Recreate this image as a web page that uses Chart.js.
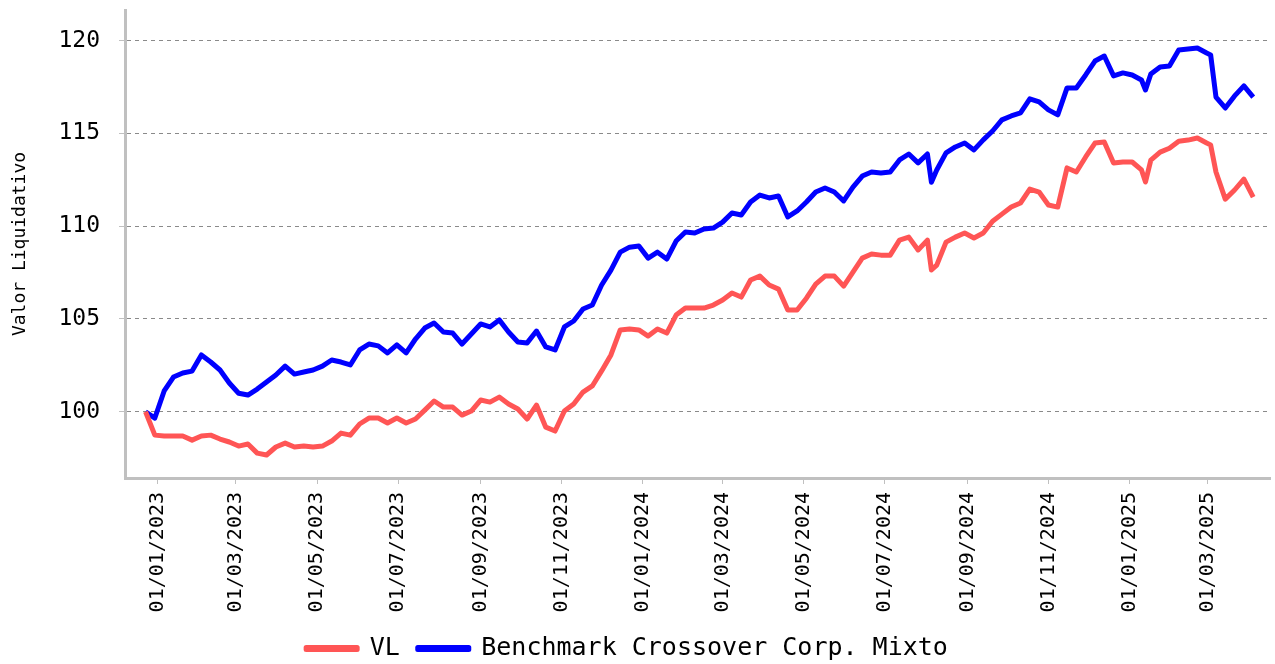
<!DOCTYPE html>
<html>
<head>
<meta charset="utf-8">
<script src="https://cdn.jsdelivr.net/npm/chart.js@4.4.1/dist/chart.umd.min.js"></script>
<style>
  body { margin: 0; background: #fff; }
</style>
</head>
<body>
<canvas id="navChart" width="1275" height="664"></canvas>
<script>
// weekly closes (plus a few extra days where the lines spike)
const dates = [
  '2022-12-23', '2022-12-30',
  '2023-01-06', '2023-01-13', '2023-01-20', '2023-01-27', '2023-02-03', '2023-02-10', '2023-02-17', '2023-02-24',
  '2023-03-03', '2023-03-10', '2023-03-17', '2023-03-24', '2023-03-31', '2023-04-07', '2023-04-14', '2023-04-21', '2023-04-28',
  '2023-05-05', '2023-05-12', '2023-05-19', '2023-05-26', '2023-06-02', '2023-06-09', '2023-06-16', '2023-06-23', '2023-06-30',
  '2023-07-07', '2023-07-14', '2023-07-21', '2023-07-28', '2023-08-04', '2023-08-11', '2023-08-18', '2023-08-25',
  '2023-09-01', '2023-09-08', '2023-09-15', '2023-09-22', '2023-09-29', '2023-10-06', '2023-10-13', '2023-10-20', '2023-10-27',
  '2023-11-03', '2023-11-10', '2023-11-17', '2023-11-24', '2023-12-01', '2023-12-08', '2023-12-15', '2023-12-22', '2023-12-29',
  '2024-01-05', '2024-01-12', '2024-01-19', '2024-01-26', '2024-02-02', '2024-02-09', '2024-02-16', '2024-02-23',
  '2024-03-01', '2024-03-08', '2024-03-15', '2024-03-22', '2024-03-29', '2024-04-05', '2024-04-12', '2024-04-19', '2024-04-26',
  '2024-05-03', '2024-05-10', '2024-05-17', '2024-05-24', '2024-05-31', '2024-06-07', '2024-06-14', '2024-06-21', '2024-06-28',
  '2024-07-05', '2024-07-12', '2024-07-19', '2024-07-26', '2024-08-02', '2024-08-05', '2024-08-09', '2024-08-16', '2024-08-23', '2024-08-30',
  '2024-09-06', '2024-09-13', '2024-09-20', '2024-09-27', '2024-10-04', '2024-10-11', '2024-10-18', '2024-10-25',
  '2024-11-01', '2024-11-08', '2024-11-15', '2024-11-22', '2024-11-29', '2024-12-06', '2024-12-13', '2024-12-20', '2024-12-27',
  '2025-01-03', '2025-01-10', '2025-01-13', '2025-01-17', '2025-01-24', '2025-01-31', '2025-02-07', '2025-02-14', '2025-02-21', '2025-02-28',
  '2025-03-03', '2025-03-07', '2025-03-14', '2025-03-21', '2025-03-28', '2025-04-04'
];

const vl = [
  100.00, 98.74,
  98.69, 98.69, 98.69, 98.47, 98.69, 98.74, 98.53, 98.37,
  98.15, 98.26, 97.77, 97.67, 98.10, 98.31, 98.10, 98.15, 98.10,
  98.15, 98.42, 98.85, 98.74, 99.34, 99.66, 99.66, 99.39, 99.66,
  99.39, 99.61, 100.09, 100.58, 100.25, 100.25, 99.82, 100.04,
  100.63, 100.52, 100.79, 100.42, 100.15, 99.61, 100.36, 99.17, 98.96,
  100.04, 100.42, 101.06, 101.39, 102.20, 103.06, 104.41, 104.46, 104.41,
  104.08, 104.46, 104.24, 105.21, 105.59, 105.59, 105.59, 105.75,
  106.02, 106.40, 106.18, 107.10, 107.31, 106.83, 106.61, 105.48, 105.48,
  106.12, 106.88, 107.31, 107.31, 106.77, 107.53, 108.28, 108.50, 108.44,
  108.44, 109.25, 109.41, 108.72, 109.25, 107.64, 107.90, 109.14, 109.41, 109.63,
  109.36, 109.63, 110.27, 110.65, 111.03, 111.25, 112.00, 111.84,
  111.14, 111.03, 113.14, 112.92, 113.73, 114.48, 114.54, 113.41, 113.46,
  113.46, 113.03, 112.38, 113.56, 113.99, 114.20, 114.58, 114.64, 114.75, 114.48,
  114.38, 112.92, 111.46, 111.95, 112.54, 111.57
];

const benchmark = [
  100.00, 99.66,
  101.12, 101.87, 102.09, 102.19, 103.06, 102.68, 102.25, 101.55,
  101.00, 100.90, 101.22, 101.60, 101.98, 102.46, 102.03, 102.14, 102.25,
  102.46, 102.79, 102.68, 102.52, 103.33, 103.65, 103.55, 103.17, 103.60,
  103.17, 103.92, 104.51, 104.78, 104.30, 104.24, 103.65, 104.19,
  104.73, 104.57, 104.95, 104.30, 103.76, 103.71, 104.35, 103.49, 103.33,
  104.57, 104.89, 105.54, 105.75, 106.83, 107.63, 108.60, 108.87, 108.93,
  108.28, 108.60, 108.23, 109.20, 109.69, 109.63, 109.85, 109.90,
  110.22, 110.71, 110.60, 111.30, 111.68, 111.52, 111.63, 110.50, 110.82,
  111.30, 111.84, 112.06, 111.84, 111.36, 112.11, 112.70, 112.92, 112.87,
  112.92, 113.57, 113.89, 113.41, 113.89, 112.37, 113.03, 113.95, 114.27, 114.48,
  114.11, 114.65, 115.13, 115.73, 115.94, 116.10, 116.86, 116.70,
  116.27, 116.00, 117.45, 117.45, 118.15, 118.90, 119.17, 118.10, 118.26,
  118.15, 117.88, 117.34, 118.20, 118.58, 118.63, 119.50, 119.55, 119.60, 119.33,
  119.23, 116.96, 116.37, 117.02, 117.56, 116.96
];

const xTickDates = [
  '2023-01-01', '2023-03-01', '2023-05-01', '2023-07-01', '2023-09-01', '2023-11-01',
  '2024-01-01', '2024-03-01', '2024-05-01', '2024-07-01', '2024-09-01', '2024-11-01',
  '2025-01-01', '2025-03-01'
];
const yTicks = [100, 105, 110, 115, 120];

const DAY = 86400000;
const BASE = Date.UTC(2023, 0, 1);
const toDay = s => (Date.UTC(+s.slice(0, 4), +s.slice(5, 7) - 1, +s.slice(8, 10)) - BASE) / DAY;
const fmtDay = v => {
  const d = new Date(BASE + Math.round(v) * DAY);
  const p = n => String(n).padStart(2, '0');
  return p(d.getUTCDate()) + '/' + p(d.getUTCMonth() + 1) + '/' + d.getUTCFullYear();
};

const FONT = "'DejaVu Sans Mono', monospace";
Chart.defaults.color = '#000';
Chart.defaults.font.family = FONT;

// nudge the legend a little to the left, like the original
const legendShift = {
  id: 'legendShift',
  afterLayout(c) {
    c.legend.left -= 8;
    c.legend.right -= 8;
  }
};

new Chart(document.getElementById('navChart'), {
  type: 'line',
  data: {
    datasets: [
      {
        label: 'VL',
        data: dates.map((d, i) => ({ x: toDay(d), y: vl[i] })),
        borderColor: 'rgb(255, 85, 85)',
        backgroundColor: 'rgb(255, 85, 85)',
        borderWidth: 5,
        pointRadius: 0,
        tension: 0,
        borderJoinStyle: 'round'
      },
      {
        label: 'Benchmark Crossover Corp. Mixto',
        data: dates.map((d, i) => ({ x: toDay(d), y: benchmark[i] })),
        borderColor: 'rgb(0, 0, 255)',
        backgroundColor: 'rgb(0, 0, 255)',
        borderWidth: 5,
        pointRadius: 0,
        tension: 0,
        borderJoinStyle: 'round'
      }
    ]
  },
  plugins: [legendShift],
  options: {
    responsive: false,
    animation: false,
    devicePixelRatio: 1,
    layout: { padding: { top: 10, right: 5, left: 0, bottom: -7 } },
    plugins: {
      tooltip: { enabled: false },
      legend: {
        position: 'bottom',
        labels: {
          boxWidth: 51,
          boxHeight: 2,
          padding: 18,
          font: { size: 25, family: FONT }
        }
      }
    },
    scales: {
      x: {
        type: 'linear',
        min: -24.44,
        max: 836.63,
        afterFit: s => { s.height = 140; },
        afterBuildTicks: s => { s.ticks = xTickDates.map(d => ({ value: toDay(d) })); },
        grid: { drawOnChartArea: false, drawTicks: true, tickLength: 6, tickColor: '#c0c0c0', tickBorderDash: [] },
        border: { color: '#c0c0c0', width: 3 },
        ticks: {
          autoSkip: false,
          minRotation: 90,
          maxRotation: 90,
          padding: 8,
          font: { size: 20, family: FONT },
          callback: v => fmtDay(v)
        }
      },
      y: {
        min: 96.43,
        max: 121.65,
        afterFit: s => { s.width = 125; s.paddingTop = 0; s.paddingBottom = 0; },
        afterBuildTicks: s => { s.ticks = yTicks.map(v => ({ value: v })); },
        grid: { color: '#8a8a8a', lineWidth: 1, tickLength: 6, tickColor: '#c0c0c0', tickBorderDash: [] },
        border: { color: '#c0c0c0', width: 3, dash: [4, 4] },
        title: {
          display: true,
          text: 'Valor Liquidativo',
          font: { size: 18, family: FONT },
          padding: { top: 10, bottom: 0 }
        },
        ticks: {
          padding: 19,
          font: { size: 23, family: FONT },
          callback: v => String(v)
        }
      }
    }
  }
});
</script>
</body>
</html>
